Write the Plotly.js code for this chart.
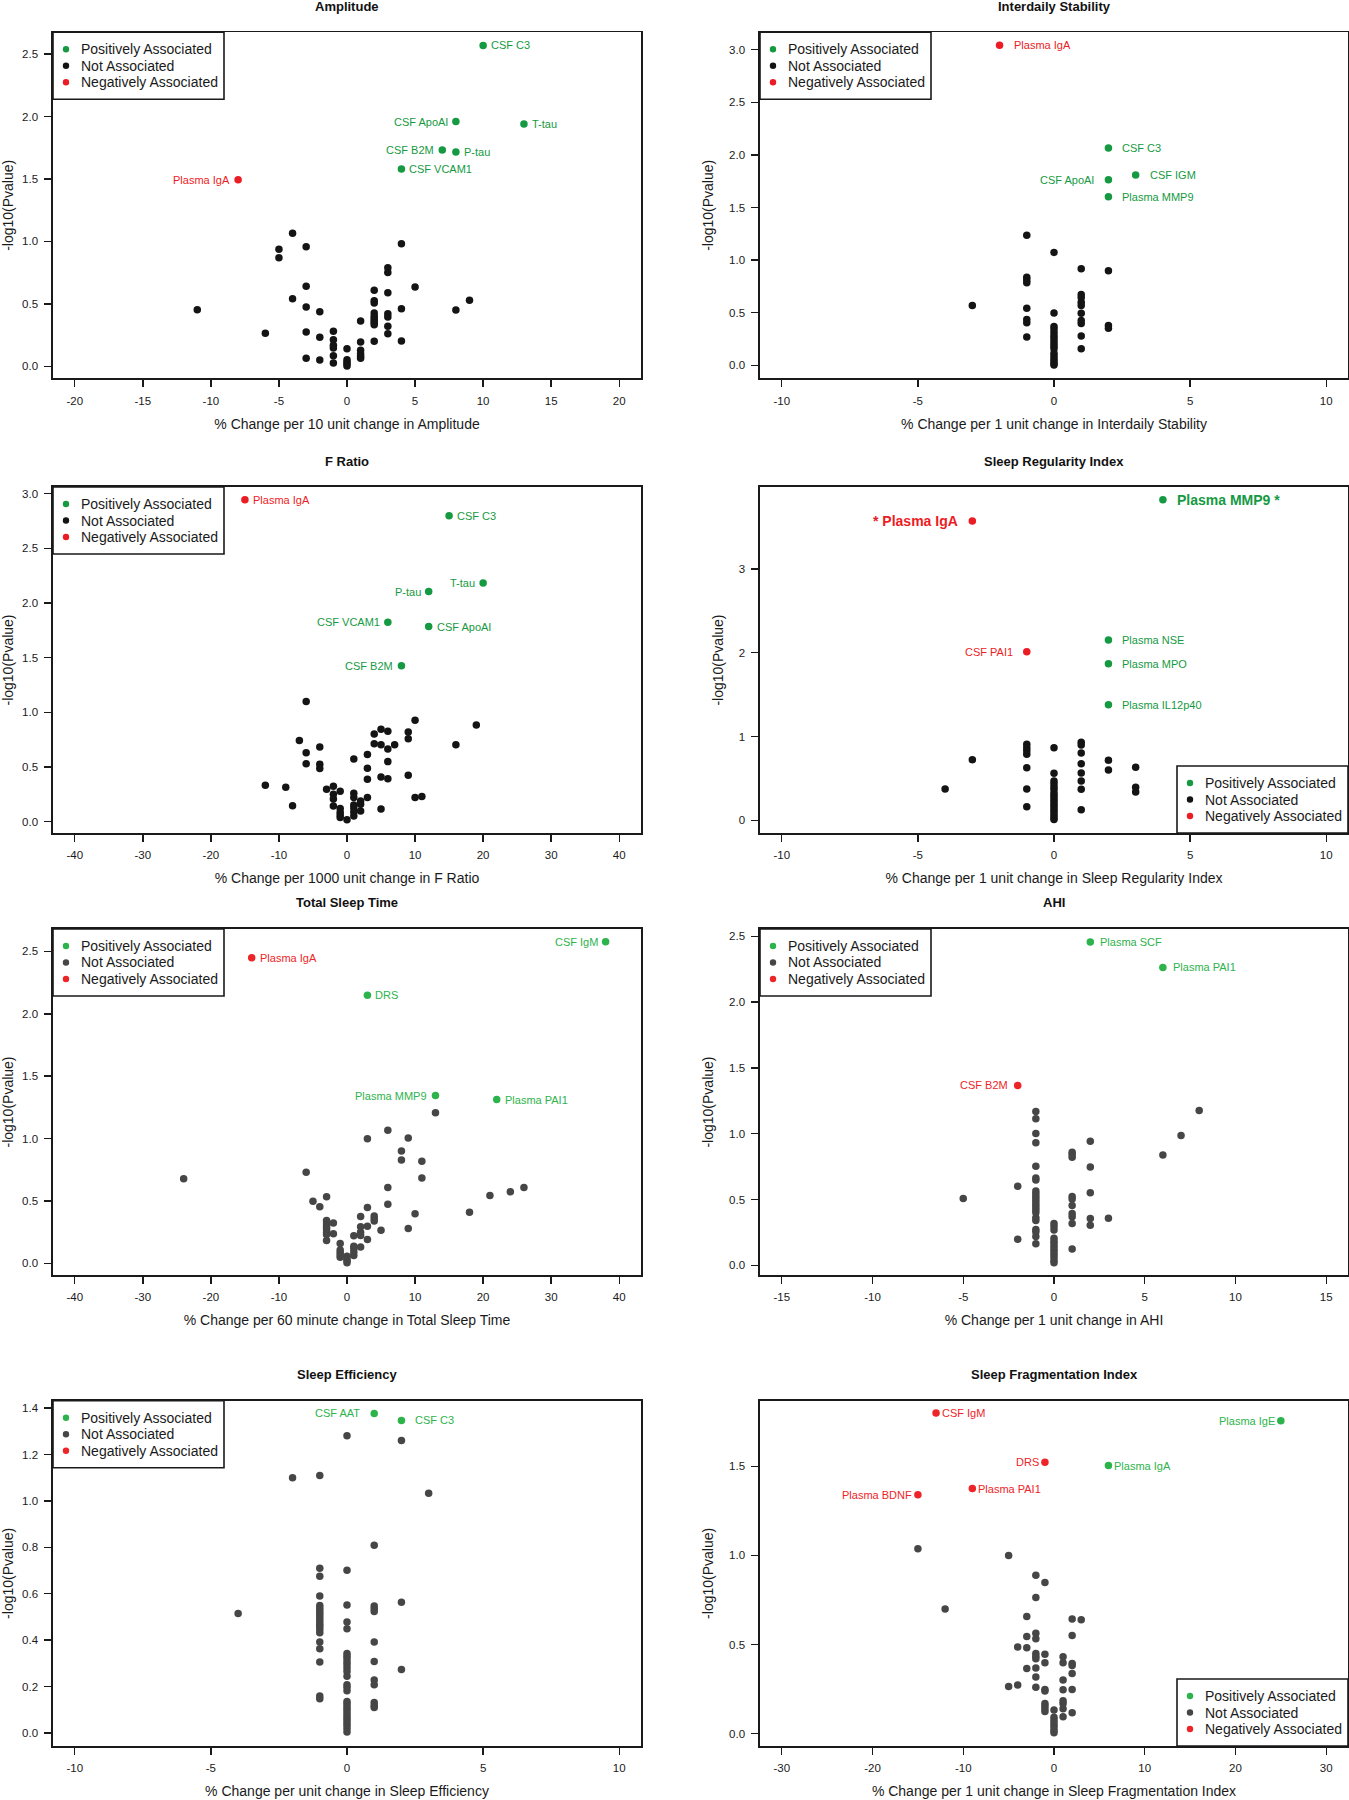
<!DOCTYPE html>
<html>
<head>
<meta charset="utf-8">
<script src="https://cdn.plot.ly/plotly-3.0.1.min.js"></script>
<style>
html,body{margin:0;padding:0;background:#ffffff;}
#chart{width:1349px;height:1800px;}
</style>
</head>
<body>
<div id="chart"></div>
<script>
// ================= DATA =================
// Panel 1: Amplitude
const ampPosX = [10, 8, 13, 7, 8, 4];
const ampPosY = [2.569, 1.959, 1.940, 1.732, 1.716, 1.580];
const ampPosLabels = ["CSF C3", "CSF ApoAI", "T-tau", "CSF B2M", "P-tau", "CSF VCAM1"];
const ampPosSide = ["right", "left", "right", "left", "right", "right"];
const ampNegX = [-8];
const ampNegY = [1.493];
const ampNegLabels = ["Plasma IgA"];
const ampNegSide = ["left"];
const ampNotX = [-11,-6,-5,-5,-4,-4,-3,-3,-3,-3,-3,-2,-2,-2,-1,-1,-1,-1,-1,-1,0,0,0,0,0,1,1,1,1,1,1,2,2,2,2,2,2,2,2,2,2,3,3,3,3,3,3,3,4,4,4,5,8,9];
const ampNotY = [0.453,0.264,0.938,0.869,1.066,0.541,0.957,0.640,0.474,0.275,0.064,0.437,0.232,0.051,0.280,0.213,0.168,0.147,0.085,0.027,0.141,0.053,0.035,0.019,0.003,0.362,0.195,0.128,0.101,0.080,0.064,0.608,0.525,0.506,0.426,0.400,0.381,0.365,0.349,0.333,0.200,0.789,0.752,0.589,0.421,0.394,0.320,0.261,0.981,0.461,0.203,0.634,0.450,0.528];
const ampXTicks = [-20,-15,-10,-5,0,5,10,15,20];
const ampYTicks = [0,0.5,1,1.5,2,2.5];

// Panel 2: Interdaily Stability
const isPosX = [2, 3, 2, 2];
const isPosY = [2.066, 1.808, 1.763, 1.603];
const isPosLabels = ["CSF C3", "CSF IGM", "CSF ApoAI", "Plasma MMP9"];
const isPosSide = ["right", "right", "left", "right"];
const isNegX = [-2];
const isNegY = [3.044];
const isNegLabels = ["Plasma IgA"];
const isNegSide = ["right"];
const isNotX = [-3,-1,-1,-1,-1,-1,-1,-1,-1,0,0,0,0,0,0,0,0,0,0,0,0,0,0,0,0,0,1,1,1,1,1,1,1,1,1,1,2,2,2];
const isNotY = [0.568,1.237,0.836,0.811,0.785,0.543,0.435,0.404,0.268,1.073,0.498,0.369,0.344,0.315,0.284,0.259,0.233,0.208,0.180,0.158,0.114,0.088,0.063,0.041,0.016,0.002,0.918,0.672,0.644,0.599,0.568,0.495,0.426,0.397,0.278,0.158,0.899,0.379,0.353];
const isXTicks = [-10,-5,0,5,10];
const isYTicks = [0,0.5,1,1.5,2,2.5,3];

// Panel 3: F Ratio
const frPosX = [15, 20, 12, 6, 12, 8];
const frPosY = [2.799, 2.183, 2.104, 1.823, 1.784, 1.427];
const frPosLabels = ["CSF C3", "T-tau", "P-tau", "CSF VCAM1", "CSF ApoAI", "CSF B2M"];
const frPosSide = ["right", "left", "left", "left", "right", "left"];
const frNegX = [-15];
const frNegY = [2.945];
const frNegLabels = ["Plasma IgA"];
const frNegSide = ["right"];
const frNotX = [-12,-9,-8,-7,-6,-6,-6,-4,-4,-4,-3,-2,-2,-2,-2,-1,-1,-1,-1,-1,0,1,1,1,1,1,1,1,2,2,2,3,3,3,3,4,4,5,5,5,5,6,6,6,6,7,9,9,9,10,10,11,16,19];
const frNotY = [0.332,0.314,0.146,0.741,1.098,0.631,0.530,0.683,0.524,0.485,0.296,0.323,0.250,0.207,0.143,0.277,0.119,0.085,0.061,0.037,0.018,0.573,0.259,0.220,0.152,0.125,0.088,0.052,0.189,0.159,0.098,0.613,0.488,0.387,0.220,0.802,0.713,0.845,0.704,0.409,0.116,0.826,0.665,0.549,0.393,0.704,0.820,0.759,0.424,0.927,0.220,0.229,0.704,0.884];
const frXTicks = [-40,-30,-20,-10,0,10,20,30,40];
const frYTicks = [0,0.5,1,1.5,2,2.5,3];

// Panel 4: Sleep Regularity Index
const sriPosX = [4, 2, 2, 2];
const sriPosY = [3.828, 2.153, 1.870, 1.381];
const sriPosLabels = ["Plasma MMP9 *", "Plasma NSE", "Plasma MPO", "Plasma IL12p40"];
const sriPosSide = ["right", "right", "right", "right"];
const sriPosBold = [true, false, false, false];
const sriNegX = [-3, -1];
const sriNegY = [3.573, 2.013];
const sriNegLabels = ["* Plasma IgA", "CSF PAI1"];
const sriNegSide = ["left", "left"];
const sriNegBold = [true, false];
const sriNotX = [-4,-3,-1,-1,-1,-1,-1,-1,-1,0,0,0,0,0,0,0,0,0,0,0,0,0,0,0,0,0,0,1,1,1,1,1,1,1,1,2,2,3,3,3];
const sriNotY = [0.374,0.724,0.907,0.867,0.832,0.788,0.629,0.374,0.163,0.867,0.561,0.470,0.438,0.400,0.370,0.330,0.300,0.270,0.240,0.210,0.180,0.150,0.120,0.090,0.060,0.030,0.010,0.931,0.899,0.804,0.676,0.565,0.470,0.370,0.127,0.716,0.601,0.633,0.394,0.338];
const sriXTicks = [-10,-5,0,5,10];
const sriYTicks = [0,1,2,3];

// Panel 5: Total Sleep Time
const tstPosX = [38, 3, 13, 22];
const tstPosY = [2.578, 2.149, 1.345, 1.313];
const tstPosLabels = ["CSF IgM", "DRS", "Plasma MMP9", "Plasma PAI1"];
const tstPosSide = ["left", "right", "left", "right"];
const tstNegX = [-14];
const tstNegY = [2.449];
const tstNegLabels = ["Plasma IgA"];
const tstNegSide = ["right"];
const tstNotX = [-24,-6,-5,-4,-3,-3,-3,-3,-3,-3,-3,-3,-3,-2,-2,-1,-1,-1,-1,-1,0,0,0,0,1,1,1,1,1,2,2,2,2,2,3,3,3,3,4,4,4,5,6,6,6,8,8,9,9,10,11,11,13,18,21,24,26];
const tstNotY = [0.678,0.729,0.498,0.453,0.533,0.343,0.324,0.305,0.287,0.268,0.249,0.230,0.182,0.322,0.236,0.158,0.107,0.086,0.067,0.048,0.056,0.035,0.019,0.005,0.220,0.137,0.118,0.091,0.062,0.375,0.292,0.249,0.222,0.131,0.999,0.447,0.297,0.190,0.380,0.359,0.338,0.265,1.066,0.608,0.474,0.900,0.828,1.005,0.279,0.397,0.817,0.683,1.206,0.410,0.544,0.573,0.608];
const tstXTicks = [-40,-30,-20,-10,0,10,20,30,40];
const tstYTicks = [0,0.5,1,1.5,2,2.5];

// Panel 6: AHI
const ahiPosX = [2, 6];
const ahiPosY = [2.457, 2.264];
const ahiPosLabels = ["Plasma SCF", "Plasma PAI1"];
const ahiPosSide = ["right", "right"];
const ahiNegX = [-2];
const ahiNegY = [1.367];
const ahiNegLabels = ["CSF B2M"];
const ahiNegSide = ["left"];
const ahiNotX = [-5,-2,-2,-1,-1,-1,-1,-1,-1,-1,-1,-1,-1,-1,-1,-1,-1,-1,-1,-1,-1,-1,-1,-1,-1,0,0,0,0,0,0,0,0,0,0,0,0,0,1,1,1,1,1,1,1,1,1,1,2,2,2,2,2,3,6,7,8];
const ahiNotY = [0.508,0.600,0.198,1.169,1.113,1.001,0.932,0.752,0.663,0.648,0.564,0.544,0.523,0.503,0.483,0.462,0.442,0.422,0.401,0.361,0.340,0.272,0.254,0.218,0.163,0.318,0.295,0.269,0.206,0.183,0.163,0.142,0.122,0.102,0.081,0.061,0.036,0.020,0.859,0.841,0.821,0.523,0.503,0.455,0.394,0.368,0.318,0.124,0.943,0.747,0.551,0.356,0.305,0.358,0.838,0.986,1.176];
const ahiXTicks = [-15,-10,-5,0,5,10,15];
const ahiYTicks = [0,0.5,1,1.5,2,2.5];

// Panel 7: Sleep Efficiency
const sePosX = [1, 2];
const sePosY = [1.377, 1.347];
const sePosLabels = ["CSF AAT", "CSF C3"];
const sePosSide = ["left", "right"];
const seNegX = [];
const seNegY = [];
const seNegLabels = [];
const seNegSide = [];
const seNotX = [-4,-2,-1,-1,-1,-1,-1,-1,-1,-1,-1,-1,-1,-1,-1,-1,-1,-1,-1,-1,-1,-1,0,0,0,0,0,0,0,0,0,0,0,0,0,0,0,0,0,0,0,0,0,0,0,0,0,0,0,0,1,1,1,1,1,1,1,1,1,1,1,2,2,2,3];
const seNotY = [0.515,1.100,1.110,0.710,0.676,0.590,0.549,0.538,0.526,0.515,0.504,0.492,0.481,0.469,0.458,0.446,0.432,0.392,0.363,0.306,0.159,0.148,1.281,0.701,0.552,0.478,0.449,0.343,0.331,0.320,0.306,0.294,0.280,0.265,0.245,0.208,0.197,0.182,0.136,0.125,0.113,0.102,0.090,0.079,0.067,0.056,0.044,0.033,0.019,0.004,0.809,0.547,0.535,0.524,0.392,0.308,0.228,0.208,0.131,0.119,0.110,1.261,0.564,0.274,1.033];
const seXTicks = [-10,-5,0,5,10];
const seYTicks = [0,0.2,0.4,0.6,0.8,1,1.2,1.4];

// Panel 8: Sleep Fragmentation Index
const sfiPosX = [25, 6];
const sfiPosY = [1.756, 1.504];
const sfiPosLabels = ["Plasma IgE", "Plasma IgA"];
const sfiPosSide = ["left", "right"];
const sfiNegX = [-13, -1, -9, -15];
const sfiNegY = [1.799, 1.523, 1.375, 1.341];
const sfiNegLabels = ["CSF IgM", "DRS", "Plasma PAI1", "Plasma BDNF"];
const sfiNegSide = ["right", "left", "right", "left"];
const sfiNotX = [-15,-12,-5,-5,-4,-4,-3,-3,-3,-3,-2,-2,-2,-2,-2,-2,-2,-2,-2,-2,-1,-1,-1,-1,-1,-1,-1,-1,-1,0,0,0,0,0,0,0,0,1,1,1,1,1,1,1,1,2,2,2,2,2,2,2,3];
const sfiNotY = [1.037,0.699,0.999,0.265,0.486,0.273,0.658,0.545,0.482,0.366,0.889,0.764,0.564,0.532,0.450,0.435,0.420,0.368,0.318,0.260,0.848,0.446,0.398,0.248,0.239,0.170,0.155,0.140,0.125,0.133,0.092,0.077,0.062,0.047,0.032,0.017,0.006,0.432,0.398,0.301,0.247,0.185,0.170,0.140,0.095,0.643,0.551,0.394,0.383,0.338,0.248,0.118,0.639];
const sfiXTicks = [-30,-20,-10,0,10,20,30];
const sfiYTicks = [0,0.5,1,1.5];

const legendNames = ["Positively Associated", "Not Associated", "Negatively Associated"];

// ================= LAYOUT / STYLE =================
const W = 1349, H = 1800;
const FONT = "'Liberation Sans', Arial, Helvetica, sans-serif";
const colPx = [[53, 641], [760, 1348]];
const rowPx = [[32.3, 378.3], [487, 833], [929, 1275], [1400.7, 1746]];
const schemes = [
  {pos: "#159a42", not: "#141414", neg: "#ec1c24"},
  {pos: "#2db34b", not: "#464646", neg: "#ee2528"}
];
// legend box geometry in pixels (R-style legend box)
const LEG_W = 171, LEG_H = 67, LEG_DOT_X = 13, LEG_TEXT_X = 27, LEG_ROWS = [17, 33.5, 50];

const panels = [
  {title: "Amplitude", xlabel: "% Change per 10 unit change in Amplitude", col: 0, row: 0,
   xr: [-21.6, 21.6], yr: [-0.096, 2.674], xt: ampXTicks, yt: ampYTicks, ydec: 1, leg: "tl", gap: 7, sc: 0,
   pos: [ampPosX, ampPosY, ampPosLabels, ampPosSide, null], neg: [ampNegX, ampNegY, ampNegLabels, ampNegSide, null], not: [ampNotX, ampNotY]},
  {title: "Interdaily Stability", xlabel: "% Change per 1 unit change in Interdaily Stability", col: 1, row: 0,
   xr: [-10.8, 10.8], yr: [-0.124, 3.166], xt: isXTicks, yt: isYTicks, ydec: 1, leg: "tl", gap: 13, sc: 0,
   pos: [isPosX, isPosY, isPosLabels, isPosSide, null], neg: [isNegX, isNegY, isNegLabels, isNegSide, null], not: [isNotX, isNotY]},
  {title: "F Ratio", xlabel: "% Change per 1000 unit change in F Ratio", col: 0, row: 1,
   xr: [-43.2, 43.2], yr: [-0.104, 3.061], xt: frXTicks, yt: frYTicks, ydec: 1, leg: "tl", gap: 7, sc: 0,
   pos: [frPosX, frPosY, frPosLabels, frPosSide, null], neg: [frNegX, frNegY, frNegLabels, frNegSide, null], not: [frNotX, frNotY]},
  {title: "Sleep Regularity Index", xlabel: "% Change per 1 unit change in Sleep Regularity Index", col: 1, row: 1,
   xr: [-10.8, 10.8], yr: [-0.151, 3.979], xt: sriXTicks, yt: sriYTicks, ydec: 0, leg: "br", gap: 13, sc: 0,
   pos: [sriPosX, sriPosY, sriPosLabels, sriPosSide, sriPosBold], neg: [sriNegX, sriNegY, sriNegLabels, sriNegSide, sriNegBold], not: [sriNotX, sriNotY]},
  {title: "Total Sleep Time", xlabel: "% Change per 60 minute change in Total Sleep Time", col: 0, row: 2,
   xr: [-43.2, 43.2], yr: [-0.094, 2.680], xt: tstXTicks, yt: tstYTicks, ydec: 1, leg: "tl", gap: 7, sc: 1,
   pos: [tstPosX, tstPosY, tstPosLabels, tstPosSide, null], neg: [tstNegX, tstNegY, tstNegLabels, tstNegSide, null], not: [tstNotX, tstNotY]},
  {title: "AHI", xlabel: "% Change per 1 unit change in AHI", col: 1, row: 2,
   xr: [-16.2, 16.2], yr: [-0.074, 2.556], xt: ahiXTicks, yt: ahiYTicks, ydec: 1, leg: "tl", gap: 9, sc: 1,
   pos: [ahiPosX, ahiPosY, ahiPosLabels, ahiPosSide, null], neg: [ahiNegX, ahiNegY, ahiNegLabels, ahiNegSide, null], not: [ahiNotX, ahiNotY]},
  {title: "Sleep Efficiency", xlabel: "% Change per unit change in Sleep Efficiency", col: 0, row: 3,
   xr: [-10.8, 10.8], yr: [-0.056, 1.432], xt: seXTicks, yt: seYTicks, ydec: 1, leg: "tl", gap: 13, sc: 1,
   pos: [sePosX, sePosY, sePosLabels, sePosSide, null], neg: [seNegX, seNegY, seNegLabels, seNegSide, null], not: [seNotX, seNotY]},
  {title: "Sleep Fragmentation Index", xlabel: "% Change per 1 unit change in Sleep Fragmentation Index", col: 1, row: 3,
   xr: [-32.4, 32.4], yr: [-0.069, 1.868], xt: sfiXTicks, yt: sfiYTicks, ydec: 1, leg: "br", gap: 5, sc: 1,
   pos: [sfiPosX, sfiPosY, sfiPosLabels, sfiPosSide, null], neg: [sfiNegX, sfiNegY, sfiNegLabels, sfiNegSide, null], not: [sfiNotX, sfiNotY]}
];

const traces = [];
const annotations = [];
const shapes = [];
const layout = {
  width: W, height: H,
  margin: {l: 0, r: 0, t: 0, b: 0},
  paper_bgcolor: "#ffffff", plot_bgcolor: "#ffffff",
  font: {family: FONT, color: "#1a1a1a"},
  showlegend: false,
  annotations: annotations,
  shapes: shapes
};

function axisBase() {
  return {
    showgrid: false, zeroline: false, showline: true, mirror: true,
    linecolor: "#1a1a1a", linewidth: 1.6,
    ticks: "outside", ticklen: 7, tickwidth: 1.4, tickcolor: "#1a1a1a",
    tickfont: {family: FONT, size: 11.5, color: "#1a1a1a"},
    fixedrange: true
  };
}

panels.forEach((p, i) => {
  const k = i + 1;
  const xa = "x" + (k === 1 ? "" : k), ya = "y" + (k === 1 ? "" : k);
  const xKey = "xaxis" + (k === 1 ? "" : k), yKey = "yaxis" + (k === 1 ? "" : k);
  const cx = colPx[p.col], ry = rowPx[p.row];
  const pw = cx[1] - cx[0], ph = ry[1] - ry[0];
  const sc = schemes[p.sc];

  layout[xKey] = Object.assign(axisBase(), {
    domain: [cx[0] / W, cx[1] / W], anchor: ya, range: p.xr,
    tickmode: "array", tickvals: p.xt, ticktext: p.xt.map(v => String(v)),
    ticklabelstandoff: 4,
    title: {text: p.xlabel, font: {family: FONT, size: 14, color: "#1a1a1a"}, standoff: 13}
  });
  layout[yKey] = Object.assign(axisBase(), {
    domain: [1 - ry[1] / H, 1 - ry[0] / H], anchor: xa, range: p.yr,
    tickmode: "array", tickvals: p.yt, ticktext: p.yt.map(v => v.toFixed(p.ydec)),
    ticklabelstandoff: 4,
    title: {text: "-log10(Pvalue)", font: {family: FONT, size: 14, color: "#1a1a1a"}, standoff: 12}
  });

  const groups = [
    {d: p.pos, color: sc.pos, name: legendNames[0]},
    {d: [p.not[0], p.not[1]], color: sc.not, name: legendNames[1]},
    {d: p.neg, color: sc.neg, name: legendNames[2]}
  ];
  groups.forEach(g => {
    traces.push({
      type: "scatter", mode: "markers", x: g.d[0], y: g.d[1], xaxis: xa, yaxis: ya,
      name: g.name, hoverinfo: "x+y",
      marker: {size: 7.5, color: g.color, line: {width: 0}}
    });
    const labels = g.d[2], sides = g.d[3], bold = g.d[4];
    if (labels) {
      labels.forEach((lab, j) => {
        const isBold = bold ? bold[j] : false;
        const left = sides[j] === "left";
        annotations.push({
          xref: xa, yref: ya, x: g.d[0][j], y: g.d[1][j],
          text: lab, showarrow: false,
          xanchor: left ? "right" : "left", yanchor: "middle",
          xshift: left ? -(p.gap - 1) : (p.gap - 1),
          font: {family: FONT, size: isBold ? 14 : 11, color: g.color, weight: isBold ? "bold" : "normal"}
        });
      });
    }
  });

  // R-style legend box drawn in the panel's domain coordinates
  const tl = p.leg === "tl";
  const bx0 = tl ? 0 : 1 - LEG_W / pw, bx1 = tl ? LEG_W / pw : 1;
  const by1 = tl ? 1 : LEG_H / ph, by0 = by1 - LEG_H / ph;
  shapes.push({
    type: "rect", xref: xa + " domain", yref: ya + " domain",
    x0: bx0, x1: bx1, y0: by0, y1: by1,
    line: {color: "#1a1a1a", width: 1.6}, fillcolor: "#ffffff", layer: "above"
  });
  groups.forEach((g, j) => {
    const yy = by1 - LEG_ROWS[j] / ph;
    shapes.push({
      type: "circle", xref: xa + " domain", yref: ya + " domain",
      xsizemode: "pixel", ysizemode: "pixel",
      xanchor: bx0 + LEG_DOT_X / pw, yanchor: yy,
      x0: -3.2, x1: 3.2, y0: -3.2, y1: 3.2,
      fillcolor: g.color, line: {width: 0}, layer: "above"
    });
    annotations.push({
      xref: xa + " domain", yref: ya + " domain",
      x: bx0 + LEG_TEXT_X / pw, y: yy, xanchor: "left", yanchor: "middle", xshift: -1,
      showarrow: false, text: g.name,
      font: {family: FONT, size: 14, color: "#1a1a1a"}
    });
  });

  annotations.push({
    xref: xa + " domain", yref: ya + " domain", x: 0.5, y: 1,
    yshift: 26, xanchor: "center", yanchor: "middle", showarrow: false,
    text: p.title, font: {family: FONT, size: 13, color: "#111111", weight: "bold"}
  });
});

Plotly.newPlot("chart", traces, layout, {staticPlot: true, displayModeBar: false});
</script>
</body>
</html>
